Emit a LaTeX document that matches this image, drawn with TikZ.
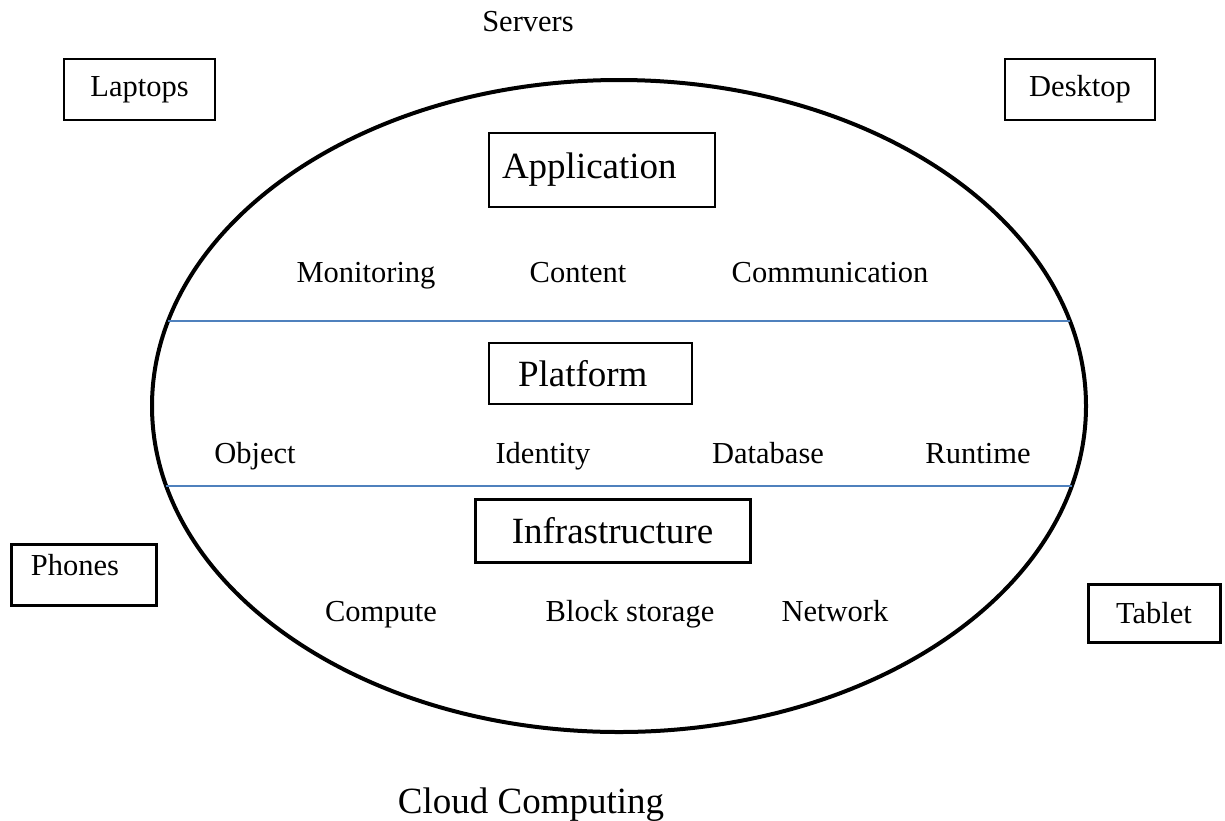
\documentclass[tikz,border=0pt]{standalone}
\usepackage{fontspec}
\setmainfont{Liberation Serif}
\usetikzlibrary{shapes.geometric}
\definecolor{divider}{RGB}{79,129,189}
\begin{document}
\begin{tikzpicture}[x=0.5pt,y=-0.5pt,
  small/.style={font=\fontsize{15.25}{18}\selectfont, inner sep=0pt},
  big/.style={font=\fontsize{18.5}{22}\selectfont, inner sep=0pt},
  thinbox/.style={draw, line width=1pt, inner sep=0pt},
  thickbox/.style={draw, line width=1.5pt, inner sep=0pt},
  layerline/.style={draw=divider, line width=0.75pt},
]
\useasboundingbox (0,0) rectangle (1225,820);

% the cloud
\node[draw, ellipse, line width=2pt, inner sep=0pt, outer sep=0pt,
      minimum width=467pt, minimum height=326pt] (cloud) at (619,406) {};

% layer dividers
\coordinate (d1l) at (168,321);
\coordinate (d1r) at (1070,321);
\coordinate (d2l) at (166,486);
\coordinate (d2r) at (1072,486);
\draw[layerline] (d1l) -- (d1r);
\draw[layerline] (d2l) -- (d2r);

% devices around the cloud
\node[small] (servers) at (528,31) [anchor=base] {Servers};
\node[thinbox, small, minimum width=75.5pt, minimum height=30.5pt] (laptops) at (139.5,89.5) {Laptops};
\node[thinbox, small, minimum width=75pt, minimum height=30.5pt] (desktop) at (1080,89.5) {Desktop};
\node[thickbox, small, minimum width=72.5pt, minimum height=30.5pt,
      text width=52.5pt, align=left, inner xsep=10pt,
      text height=10.5pt, text depth=10pt] (phones) at (83.5,574.5) {Phones};
\node[thickbox, small, minimum width=66pt, minimum height=29pt] (tablet) at (1154,613) {Tablet};

% application layer
\node[thinbox, big, minimum width=113pt, minimum height=37pt,
      text width=100pt, align=left, inner xsep=6.5pt] (application) at (602,170) {Application};
\node[small, anchor=base] (monitoring) at (366,282) {Monitoring};
\node[small, anchor=base] (content) at (578,282) {Content};
\node[small, anchor=base] (communication) at (830,282) {Communication};

% platform layer
\node[thinbox, big, minimum width=101.5pt, minimum height=30.5pt,
      text width=72.5pt, align=left, inner xsep=14.5pt] (platform) at (590.5,373.5) {Platform};
\node[small, anchor=base] (object) at (255,463) {Object};
\node[small, anchor=base] (identity) at (543,463) {Identity};
\node[small, anchor=base] (database) at (768,463) {Database};
\node[small, anchor=base] (runtime) at (978,463) {Runtime};

% infrastructure layer
\node[thickbox, big, minimum width=137.5pt, minimum height=31.5pt] (infrastructure) at (612.5,530.5) {Infrastructure};
\node[small, anchor=base] (compute) at (381,621) {Compute};
\node[small, anchor=base] (blockstorage) at (630,621) {Block storage};
\node[small, anchor=base] (network) at (835,621) {Network};

% caption
\node[big, anchor=base] (caption) at (531,813) {Cloud Computing};
\end{tikzpicture}
\end{document}
